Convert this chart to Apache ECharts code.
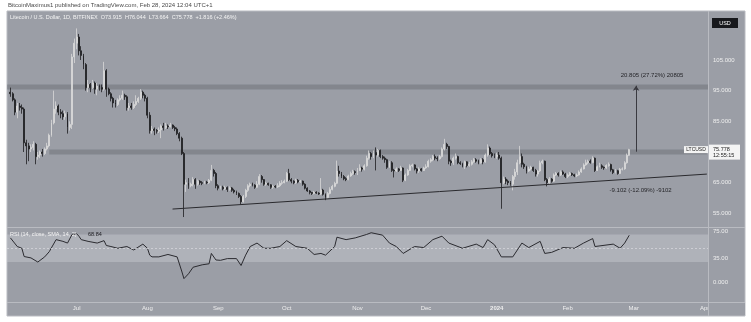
<!DOCTYPE html>
<html><head><meta charset="utf-8">
<script src="https://cdn.jsdelivr.net/npm/echarts@6.0.0/dist/echarts.min.js"></script>
<style>html,body{margin:0;padding:0;background:#fff;}#c{width:751px;height:322px;}</style>
</head><body><div id="c"></div>
<script>
// ---------- data ----------
const axisStart = '2023-06-01';
const axisEnd = '2024-04-02';
const dataStart = '2023-06-02';
const firstOpen = 94.5;
const closes = [
 94.0,92.0,88.0,90.0,89.5,89.0,78.0,77.0,76.0,76.5,77.5,73.5,74.0,75.0,74.5,76.0,77.0,80.5,84.5,89.0,90.0,88.0,87.5,86.5,87.5,83.0,84.0,106.0,110.5,
 112.5,108.0,106.5,103.5,96.0,97.0,96.0,97.5,95.5,96.5,96.0,95.5,101.5,95.5,94.0,92.5,91.0,90.5,92.0,92.5,93.5,93.0,89.5,90.0,89.5,90.5,91.5,92.5,94.5,93.5,92.5,
 87.0,82.0,82.5,82.0,81.8,82.2,83.5,83.0,83.5,83.2,83.8,83.0,82.5,81.0,79.5,74.5,64.5,65.0,64.0,64.5,66.0,64.5,65.5,65.0,64.8,65.2,65.0,65.8,69.0,68.0,64.0,
 63.2,63.5,63.0,63.4,62.8,63.3,62.5,62.0,61.5,60.5,58.8,60.5,62.5,64.0,64.5,64.2,63.5,64.5,67.0,66.0,64.5,64.8,64.3,63.5,63.8,63.6,64.0,64.8,65.0,65.5,
 68.0,66.0,65.5,65.0,65.8,65.2,65.5,64.5,63.2,62.3,61.8,61.5,61.9,61.6,61.3,62.6,61.2,60.2,61.5,62.8,63.8,64.8,68.8,68.0,67.0,66.3,66.0,67.2,68.0,68.6,68.3,
 69.0,69.8,69.4,70.5,73.0,74.5,73.5,74.8,74.0,75.5,73.5,73.0,72.5,70.0,71.5,69.0,68.8,69.5,69.0,69.8,65.8,67.5,69.0,70.5,70.8,69.5,68.8,69.5,69.0,69.8,
 70.2,72.0,72.5,73.5,73.0,72.8,73.5,76.0,77.5,76.8,72.0,71.5,73.0,73.5,71.5,71.2,70.5,71.8,70.6,71.0,71.8,72.5,72.0,71.5,72.5,71.8,74.0,76.3,74.5,73.8,73.5,
 74.0,73.0,65.0,66.2,65.5,65.0,64.5,67.0,68.5,71.5,73.5,71.0,70.2,68.8,69.5,70.0,69.0,67.8,68.8,71.5,72.0,66.0,65.0,66.2,65.5,67.5,68.0,67.5,68.5,67.8,67.0,
 67.5,68.0,67.6,67.2,67.5,68.5,69.5,70.8,71.5,72.0,71.6,73.0,69.0,70.2,70.5,70.0,69.8,70.6,70.9,69.2,68.3,68.9,68.0,69.4,69.5,71.5,73.915,75.778
];
const highs = [
 96.0,94.5,92.5,91.0,91.0,90.5,89.5,79.0,78.0,77.5,78.5,78.0,75.0,75.5,76.0,76.5,78.0,81.0,85.5,95.0,91.5,90.5,89.0,88.5,88.5,88.0,85.0,107.0,112.0,
 115.3,113.5,109.5,107.0,104.0,98.5,97.5,98.5,98.0,97.5,97.0,97.0,104.4,102.0,96.0,94.5,93.0,92.0,92.5,93.5,95.0,94.0,93.5,91.0,91.0,91.5,93.5,93.0,95.5,95.0,94.0,
 93.0,88.0,83.5,83.0,82.5,83.0,84.0,84.5,84.5,84.0,84.5,84.0,83.5,83.0,81.5,80.0,75.0,66.0,66.5,65.0,66.8,66.5,66.0,65.8,65.5,65.6,65.6,66.2,70.8,69.5,68.5,
 64.5,64.0,64.0,64.0,63.8,63.8,63.6,63.0,62.4,61.8,61.0,61.0,63.0,64.5,65.0,65.0,64.5,65.5,67.8,67.5,66.2,65.3,65.0,64.5,64.3,64.2,64.8,65.5,65.8,66.0,
 68.5,69.5,66.5,65.8,66.3,66.2,65.9,65.7,64.8,63.5,62.6,62.0,62.3,62.2,61.9,66.5,63.0,61.5,62.0,63.5,64.3,65.3,72.2,70.5,68.5,67.5,66.8,67.6,68.6,69.2,69.0,
 69.8,71.0,70.2,71.0,73.8,75.5,75.0,75.5,76.5,76.0,75.8,74.0,73.5,72.8,72.0,72.0,69.5,70.0,69.8,70.5,70.0,68.0,69.5,71.0,71.2,71.0,69.8,70.0,69.8,70.2,
 71.0,72.5,73.0,74.0,74.2,73.6,74.0,76.5,79.3,78.0,77.0,72.5,73.5,74.5,73.8,72.0,71.5,72.2,72.0,71.8,72.4,73.0,73.0,72.5,73.0,73.0,74.5,77.5,76.8,75.0,74.5,
 74.8,75.0,73.5,67.0,66.8,66.0,65.5,67.5,69.5,72.5,77.0,74.5,71.5,70.5,70.2,70.5,70.2,69.5,69.2,72.2,72.5,72.2,66.5,66.8,66.5,68.0,68.5,68.4,69.0,69.0,68.2,
 68.0,68.5,68.3,67.9,68.0,69.0,70.0,71.3,72.5,72.5,72.6,73.6,73.2,70.6,71.5,71.0,70.3,71.0,71.6,71.2,69.5,69.4,69.2,69.8,70.0,72.0,74.5,76.044
];
const lows = [
 93.0,91.5,87.0,86.0,88.5,87.5,75.0,71.0,72.0,75.0,75.5,71.0,72.5,73.0,73.5,74.0,75.5,76.5,80.0,84.0,87.5,87.0,86.0,85.5,85.5,81.0,82.0,82.5,104.0,
 108.5,106.5,105.0,102.0,95.0,94.5,94.5,95.5,94.0,93.5,95.0,94.5,95.0,93.0,93.5,91.5,89.5,89.5,90.0,91.5,92.0,92.0,88.5,88.5,88.8,89.0,90.0,91.0,92.0,92.5,91.5,
 86.0,81.0,81.0,80.5,81.0,81.2,79.5,82.0,82.5,82.5,83.0,82.5,81.8,80.5,78.5,74.0,53.8,62.0,63.0,63.5,63.8,63.0,64.0,64.3,64.2,64.5,64.5,64.6,65.5,67.0,63.2,
 62.5,62.8,62.5,62.6,62.0,62.4,62.0,61.5,61.0,60.0,58.0,58.5,60.0,62.0,63.5,63.8,63.0,63.2,64.2,65.0,64.0,64.0,64.0,63.0,63.0,63.2,63.3,63.6,64.3,64.8,
 65.2,65.5,64.8,64.5,64.6,64.8,64.9,64.0,62.8,62.0,61.2,61.0,61.2,61.3,61.0,61.0,60.8,59.3,59.8,61.2,62.5,63.5,64.5,67.0,66.5,65.8,65.5,65.8,66.9,67.5,67.6,
 67.5,68.8,68.6,69.0,70.2,72.5,72.5,73.0,69.0,73.5,73.0,72.5,71.5,69.5,69.8,68.5,66.7,68.5,68.5,68.8,65.2,65.5,67.2,68.8,70.0,69.0,68.0,68.2,68.6,68.8,
 69.5,70.0,71.5,72.0,72.3,72.0,72.5,73.2,75.5,76.0,71.0,70.5,70.8,72.5,71.0,70.8,70.0,69.5,70.0,70.2,70.6,71.5,71.5,71.0,71.2,71.0,71.5,73.5,74.0,73.2,73.0,
 72.8,72.5,56.5,64.5,64.5,64.2,64.0,62.5,66.0,67.5,71.0,70.0,69.5,68.0,68.5,69.0,68.5,67.0,67.0,68.5,71.0,65.5,63.8,64.5,65.0,65.2,67.2,67.0,67.2,67.5,66.5,
 66.5,67.2,67.2,66.8,66.8,67.3,68.2,69.3,70.5,71.0,71.2,71.3,68.5,68.8,70.0,69.5,69.2,69.5,70.2,68.6,67.8,68.0,67.6,67.8,69.0,69.2,71.2,73.664
];
const rsiDates = ['2023-06-02','2023-06-05','2023-06-07','2023-06-08','2023-06-11','2023-06-14','2023-06-17','2023-06-19','2023-06-22','2023-06-25','2023-06-27','2023-06-29','2023-07-01','2023-07-02','2023-07-03','2023-07-06','2023-07-10','2023-07-13','2023-07-14','2023-07-16','2023-07-19','2023-07-23','2023-07-26','2023-07-30','2023-08-01','2023-08-02','2023-08-03','2023-08-06','2023-08-10','2023-08-14','2023-08-16','2023-08-17','2023-08-19','2023-08-21','2023-08-25','2023-08-28','2023-08-29','2023-08-31','2023-09-02','2023-09-05','2023-09-09','2023-09-11','2023-09-13','2023-09-15','2023-09-18','2023-09-21','2023-09-24','2023-09-28','2023-10-01','2023-10-05','2023-10-10','2023-10-13','2023-10-16','2023-10-18','2023-10-22','2023-10-23','2023-10-27','2023-10-31','2023-11-05','2023-11-07','2023-11-12','2023-11-15','2023-11-18','2023-11-21','2023-11-26','2023-11-30','2023-12-04','2023-12-08','2023-12-11','2023-12-17','2023-12-23','2023-12-26','2023-12-28','2023-12-31','2024-01-03','2024-01-08','2024-01-12','2024-01-15','2024-01-20','2024-01-22','2024-01-25','2024-01-30','2024-02-04','2024-02-08','2024-02-12','2024-02-13','2024-02-21','2024-02-24','2024-02-26','2024-02-28'];
const rsiValues = [65,52.5,50,38,36,30,37.5,45,62.5,60,57.5,70,71,67.5,62.5,60,57.5,61,54,52.5,50,52.5,47.5,56,50,40,37.5,37.5,41,37.5,17,6,13,22.5,26,27.5,42.5,33,32.5,35,35,25,40,52.5,57.5,50,50,52.5,61,52.5,50,41,42.5,40,52.5,66,62.5,65,70,72.5,69,57.5,52.5,42.5,52.5,51,62.5,67.5,57.5,50,56,51,62.5,55,37.5,37.5,57.5,51,60,42.5,44,51,50,57.5,64,52.5,56,50,57.5,68.84];
const timeTicks = ['2023-07-01','2023-08-01','2023-09-01','2023-10-01','2023-11-01','2023-12-01','2024-01-01','2024-02-01','2024-03-01','2024-04-01'];
const timeTickLabels = ['Jul','Aug','Sep','Oct','Nov','Dec','2024','Feb','Mar','Apr'];
const priceTicks = [55,65,75,85,95,105];
const rsiTicks = [0,35,75];
const rsiTickLabels = ['0.000','35.00','75.00'];
const resistanceBand = [95.4, 97.0];
const supportBand = [74.2, 75.8];
const supportBandStart = '2023-06-19';
const trendStart = ['2023-08-12', 56.4];
const trendEnd = ['2024-04-02', 67.8];
const arrowDate = '2024-03-02';
const arrowFrom = 75.1, arrowTo = 96.6;
const upText = '20.805 (27.72%) 20805', upTextAt = ['2024-03-09', 100.1];
const downText = '-9.102 (-12.09%) -9102', downTextAt = ['2024-03-04', 62.6];
const rsiBand = [30, 70], rsiMid = 50;

// ---------- build ----------
function ymd(d){return d.toISOString().slice(0,10);}
const cats = [];
for (let d = new Date(axisStart+'T00:00:00Z'); ymd(d) <= axisEnd; d.setUTCDate(d.getUTCDate()+1)) cats.push(ymd(d));
const off = cats.indexOf(dataStart);
const kdata = cats.map((c,k)=>{const j=k-off; if(j<0||j>=closes.length) return '-'; const o=j===0?firstOpen:closes[j-1]; return [o,closes[j],lows[j],highs[j]];});
const rsiData = rsiDates.map((d,i)=>[d,rsiValues[i]]);

const BG='#9b9ea6', SEP='#b9bbc1', TXT='#eeeeee', FONT='Liberation Sans';
const chart = echarts.init(document.getElementById('c'), null, {renderer:'canvas'});
const option = {
  animation:false,
  backgroundColor:'#ffffff',
  grid:[{left:7,top:12,width:701,height:215},{left:7,top:228,width:701,height:74}],
  xAxis:[
    {type:'category',gridIndex:0,data:cats,boundaryGap:true,axisLine:{show:false},axisTick:{show:false},axisLabel:{show:false},splitLine:{show:false}},
    {type:'category',gridIndex:1,data:cats,boundaryGap:true,axisLine:{show:false},axisTick:{show:false},splitLine:{show:false},
     axisLabel:{show:true,margin:3,fontSize:6,fontFamily:FONT,color:TXT,
       interval:(i,v)=>timeTicks.indexOf(v)>=0,
       formatter:v=>{const k=timeTicks.indexOf(v); const t=timeTickLabels[k]; return /^\d{4}$/.test(t)?'{b|'+t+'}':t;},
       rich:{b:{fontWeight:'bold',fontSize:6,fontFamily:FONT,color:TXT}}}}
  ],
  yAxis:[
    {type:'value',gridIndex:0,position:'right',min:50.55,max:120.65,axisLine:{show:false},axisTick:{show:false},splitLine:{show:false},
     axisLabel:{show:true,customValues:priceTicks,formatter:v=>v.toFixed(3),margin:5,fontSize:6,fontFamily:FONT,color:TXT}},
    {type:'value',gridIndex:1,position:'right',min:-27.9,max:79.35,axisLine:{show:false},axisTick:{show:false},splitLine:{show:false},
     axisLabel:{show:true,customValues:rsiTicks,formatter:v=>rsiTickLabels[rsiTicks.indexOf(v)],margin:5,fontSize:6,fontFamily:FONT,color:TXT}}
  ],
  series:[
    {type:'candlestick',xAxisIndex:0,yAxisIndex:0,data:kdata,barWidth:'62%',
     itemStyle:{color:'#ececec',color0:'#1d1d1f',borderColor:'#d8d8d8',borderColor0:'#1d1d1f',borderWidth:0.8},
     markArea:{silent:true,itemStyle:{color:'rgba(70,72,80,0.28)'},data:[
       [{yAxis:resistanceBand[0]},{yAxis:resistanceBand[1]}],
       [{coord:[supportBandStart,supportBand[0]]},{coord:[axisEnd,supportBand[1]]}]
     ]},
     markLine:{silent:true,symbol:'none',label:{show:false},data:[
       [{coord:trendStart,lineStyle:{color:'#2a2a2e',width:1,type:'solid'}},{coord:trendEnd}],
       [{coord:[arrowDate,arrowFrom],symbol:'none',lineStyle:{color:'#3a3a40',width:1,type:'solid'}},{coord:[arrowDate,arrowTo],symbol:'arrow',symbolSize:5}]
     ]},
     markPoint:{silent:true,symbol:'rect',symbolSize:1,itemStyle:{color:'rgba(0,0,0,0)'},
       label:{show:true,position:'inside',fontSize:6,fontFamily:FONT,color:'#26262a'},
       data:[{coord:upTextAt,label:{formatter:upText}},{coord:downTextAt,label:{formatter:downText}}]}
    },
    {type:'line',xAxisIndex:1,yAxisIndex:1,data:rsiData,showSymbol:false,lineStyle:{color:'#2b2b30',width:1},
     markArea:{silent:true,itemStyle:{color:'rgba(200,202,208,0.45)'},data:[[{yAxis:rsiBand[0]},{yAxis:rsiBand[1]}]]},
     markLine:{silent:true,symbol:'none',label:{show:false},lineStyle:{color:'#d4d6da',type:[2,2],width:0.8},data:[{yAxis:rsiMid}]}}
  ]
};
chart.setOption(option);
const lastY = chart.convertToPixel({yAxisIndex:0}, closes[closes.length-1]);
chart.setOption({graphic:{elements:[
  {type:'rect',z:-10,silent:true,shape:{x:7,y:11,width:738,height:305},style:{fill:BG,stroke:SEP,lineWidth:1}},
  {type:'line',z:100,shape:{x1:708.5,y1:11,x2:708.5,y2:316},style:{stroke:SEP,lineWidth:1}},
  {type:'line',z:100,shape:{x1:7,y1:227.5,x2:745,y2:227.5},style:{stroke:SEP,lineWidth:1}},
  {type:'line',z:100,shape:{x1:7,y1:302.5,x2:745,y2:302.5},style:{stroke:SEP,lineWidth:1}},
  {type:'rect',z:90,shape:{x:709,y:303,width:36,height:12},style:{fill:BG}},
  {type:'text',z:100,x:8,y:2,style:{text:'BitcoinMaximus1 published on TradingView.com, Feb 28, 2024 12:04 UTC+1',fontSize:6,fontFamily:FONT,fill:'#4a4a4a'}},
  {type:'text',z:100,x:10,y:14,style:{text:'Litecoin / U.S. Dollar, 1D, BITFINEX  O73.915  H76.044  L73.664  C75.778  +1.816 (+2.46%)',fontSize:5.5,fontFamily:FONT,fill:'#f4f4f4'}},
  {type:'rect',z:100,shape:{x:712,y:18,width:26,height:10},style:{fill:'#17181c'}},
  {type:'text',z:101,x:725,y:23,style:{text:'USD',fontSize:5.5,fontFamily:FONT,fill:'#ffffff',align:'center',verticalAlign:'middle'}},
  {type:'text',z:100,x:10,y:231,style:{text:'RSI (14, close, SMA, 14, 2)',fontSize:5.5,fontFamily:FONT,fill:'#f4f4f4'}},
  {type:'text',z:100,x:88,y:231,style:{text:'68.84',fontSize:5.5,fontFamily:FONT,fill:'#1c1c20'}},
  {type:'rect',z:100,shape:{x:684,y:lastY-3.5,width:24,height:7},style:{fill:'#f4f4f4'}},
  {type:'text',z:101,x:696,y:lastY,style:{text:'LTCUSD',fontSize:5,fontFamily:FONT,fill:'#222',align:'center',verticalAlign:'middle'}},
  {type:'rect',z:100,shape:{x:709,y:lastY-5,width:31,height:15},style:{fill:'#f4f4f4'}},
  {type:'text',z:101,x:713,y:lastY,style:{text:'75.778',fontSize:5.5,fontFamily:FONT,fill:'#222',verticalAlign:'middle'}},
  {type:'text',z:101,x:713,y:lastY+6,style:{text:'12:55:15',fontSize:5.5,fontFamily:FONT,fill:'#222',verticalAlign:'middle'}}
]}});
</script></body></html>
